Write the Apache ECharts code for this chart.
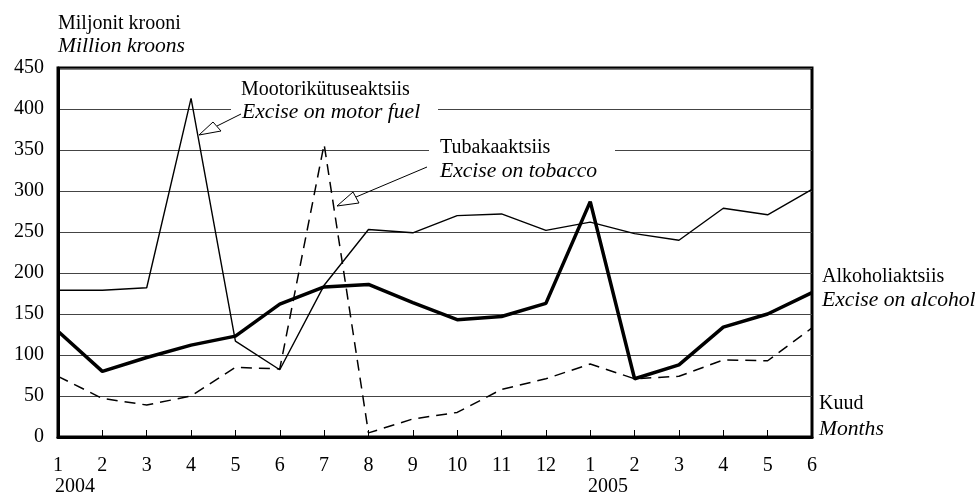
<!DOCTYPE html>
<html>
<head>
<meta charset="utf-8">
<script src="https://cdn.jsdelivr.net/npm/echarts@6/dist/echarts.min.js"></script>
<style>
html,body{margin:0;padding:0;background:#fff;}
#chart{width:979px;height:496px;}
</style>
</head>
<body>
<div id="chart"></div>
<script>
var months = ['1','2','3','4','5','6','7','8','9','10','11','12','1','2','3','4','5','6'];
var yTicks = [0,50,100,150,200,250,300,350,400,450];
var motorFuel = [179,179,182,413,117,82,185,253,249,270,272,252,262,248,240,279,271,302];
var alcohol   = [129,80,97,112,123,162,183,186,164,143,147,163,287,71,88,134,150,176];
var tobacco   = [74,47,39,50,85,83,357,5,22,30,58,71,89,71,74,94,93,133];

var FONT = '"Liberation Serif", "Times New Roman", serif';
var chart = echarts.init(document.getElementById('chart'), null, {renderer:'canvas'});

function txt(x, y, s, italic){
  var o = {type:'text', x:x, y:y, z:100,
    style:{text:s, font:(italic?'italic ':'') + '20px ' + FONT, fill:'#000', x:0, y:0}};
  if (italic) { o.scaleX = 1.08; }
  return o;
}

var option = {
  animation:false,
  backgroundColor:'#fff',
  grid:{left:58, right:167, top:68, bottom:59, show:true, borderColor:'#000', borderWidth:3, backgroundColor:'transparent'},
  xAxis:{
    type:'category', data:months, boundaryGap:false,
    axisLine:{show:true, lineStyle:{color:'#000', width:3}},
    axisTick:{show:true, inside:true, length:7, alignWithLabel:true, lineStyle:{color:'#000', width:1}, interval:0},
    axisLabel:{color:'#000', fontFamily:FONT, fontSize:20, margin:19, interval:0},
    splitLine:{show:false}
  },
  yAxis:{
    type:'value', min:0, max:450, interval:50,
    axisLine:{show:true, lineStyle:{color:'#000', width:3}},
    axisTick:{show:false},
    axisLabel:{color:'#000', fontFamily:FONT, fontSize:20, margin:14},
    splitLine:{show:true, lineStyle:{color:'#444', width:1}}
  },
  series:[
    {type:'line', name:'Mootorikütuseaktsiis', data:motorFuel, symbol:'none', z:3,
     lineStyle:{color:'#000', width:1.4}},
    {type:'line', name:'Tubakaaktsiis', data:tobacco, symbol:'none', z:3,
     lineStyle:{color:'#000', width:1.5, type:[11,7]}},
    {type:'line', name:'Alkoholiaktsiis', data:alcohol, symbol:'none', z:4,
     lineStyle:{color:'#000', width:3.5}}
  ],
  graphic:[
    txt(58, 14, 'Miljonit krooni', false),
    txt(58, 37, 'Million kroons', true),
    // motor fuel annotation
    {type:'rect', shape:{x:231, y:80, width:207, height:44}, style:{fill:'#fff'}, z:50},
    txt(241, 80, 'Mootorikütuseaktsiis', false),
    txt(242, 103, 'Excise on motor fuel', true),
    {type:'line', shape:{x1:241, y1:114, x2:217, y2:126}, style:{stroke:'#000', lineWidth:1}, z:60},
    {type:'polygon', shape:{points:[[199,135],[213,122],[221,131]]}, style:{fill:'#fff', stroke:'#000', lineWidth:1}, z:60},
    // tobacco annotation
    {type:'rect', shape:{x:429, y:140, width:186, height:44}, style:{fill:'#fff'}, z:50},
    txt(440, 138, 'Tubakaaktsiis', false),
    txt(440, 162, 'Excise on tobacco', true),
    {type:'line', shape:{x1:427, y1:167, x2:356, y2:197}, style:{stroke:'#000', lineWidth:1}, z:60},
    {type:'polygon', shape:{points:[[337,206],[353,192],[359,203]]}, style:{fill:'#fff', stroke:'#000', lineWidth:1}, z:60},
    // right labels
    txt(822, 267, 'Alkoholiaktsiis', false),
    txt(822, 291, 'Excise on alcohol', true),
    txt(819, 394, 'Kuud', false),
    txt(819, 420, 'Months', true),
    // years
    txt(55, 477, '2004', false),
    txt(588, 477, '2005', false)
  ]
};
chart.setOption(option);
</script>
</body>
</html>
